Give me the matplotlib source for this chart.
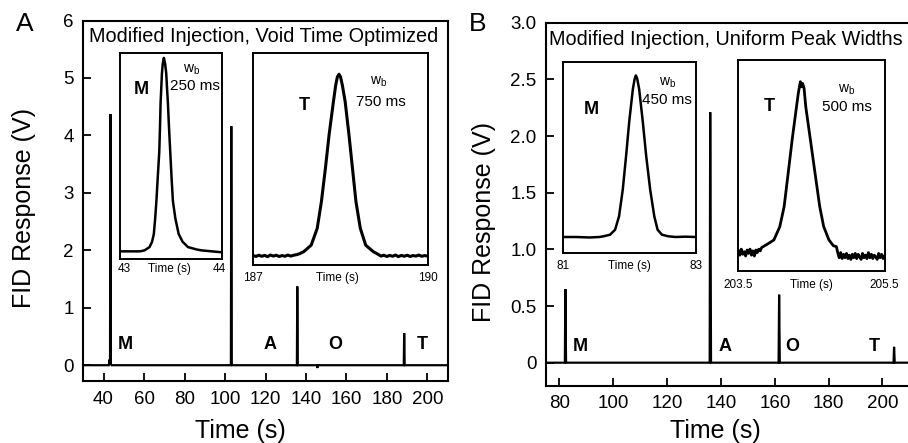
import matplotlib
matplotlib.use('Agg')
import matplotlib.pyplot as plt

plt.rcParams['font.family'] = ['Liberation Sans', 'DejaVu Sans']
plt.rcParams['mathtext.fontset'] = 'custom'
plt.rcParams['mathtext.rm'] = 'Liberation Sans'
plt.rcParams['mathtext.it'] = 'Liberation Sans:italic'

# ---------------- data ----------------
# Panel A main chromatogram (time s, FID V)
a_time = [30, 42.6, 43.0, 43.2, 43.4, 43.6, 44.0, 102.9, 103.1, 103.35, 103.6,
          135.5, 135.7, 135.95, 145.5, 145.6, 145.7, 188.3, 188.5, 188.75, 210]
a_resp = [0, 0, 0.10, 0.05, 4.37, 0.02, 0, 0, 4.16, 0.03, 0,
          0, 1.37, 0, 0, -0.05, 0, 0, 0.56, 0, 0]
a_labels = ['M', 'A', 'O', 'T']
a_label_x = [50.7, 122.0, 154.6, 197.3]
a_label_y = 0.36

# Panel B main chromatogram
b_time = [75, 82.0, 82.2, 82.45, 135.8, 136.0, 136.3, 161.4, 161.6, 161.85,
          204.1, 204.3, 204.55, 212]
b_resp = [0, 0, 0.65, 0, 0, 2.21, 0, 0, 0.60, 0, 0, 0.14, 0, 0]
b_labels = ['M', 'A', 'O', 'T']
b_label_x = [87.9, 141.6, 166.3, 197.0]
b_label_y = 0.14

# Inset A-M (normalised signal)
am_t = [43.00, 43.10, 43.20, 43.244, 43.293, 43.318, 43.335, 43.348, 43.36, 43.374,
        43.388, 43.395, 43.401, 43.408, 43.414, 43.422, 43.433, 43.445, 43.456,
        43.463, 43.472, 43.483, 43.495, 43.507, 43.521, 43.545, 43.577, 43.615,
        43.668, 43.75, 43.80, 43.90, 44.00]
am_v = [0.0, 0.0, 0.0, 0.005, 0.022, 0.05, 0.09, 0.17, 0.26, 0.39,
        0.515, 0.64, 0.77, 0.85, 0.92, 0.97, 1.0, 0.97, 0.92,
        0.85, 0.77, 0.64, 0.515, 0.39, 0.26, 0.17, 0.09, 0.05,
        0.022, 0.01, 0.005, 0.0, -0.005]

# Inset A-T
at_t = [187.00, 187.05, 187.10, 187.15, 187.20, 187.25, 187.30, 187.35, 187.40,
        187.45, 187.50, 187.55, 187.60, 187.65, 187.70, 187.75, 187.80, 187.87,
        188.00, 188.104, 188.176, 188.245, 188.308, 188.383, 188.422, 188.45,
        188.479, 188.505, 188.536, 188.584, 188.65, 188.71, 188.77, 188.845,
        188.938, 189.07, 189.15, 189.20, 189.25, 189.30, 189.35, 189.40, 189.45,
        189.50, 189.55, 189.60, 189.65, 189.70, 189.75, 189.80, 189.85, 189.90,
        189.95, 190.00]
at_v = [0.002, -0.004, 0.003, -0.003, 0.002, -0.005, 0.004, -0.002, 0.003,
        -0.004, 0.001, -0.003, 0.004, -0.002, 0.003, 0.006, 0.011, 0.022,
        0.058, 0.151, 0.298, 0.482, 0.666, 0.85, 0.94, 0.985,
        1.0, 0.985, 0.94, 0.85, 0.666, 0.482, 0.298, 0.151,
        0.058, 0.022, 0.008, -0.002, 0.003, -0.004, 0.002, -0.003, 0.004,
        -0.005, 0.002, -0.003, 0.003, -0.004, 0.001, -0.002, 0.004, -0.003,
        0.001, -0.002]

# Inset B-M
bm_t = [81.00, 81.20, 81.40, 81.55, 81.608, 81.71, 81.786, 81.846, 81.902, 81.952,
        81.998, 82.054, 82.08, 82.10, 82.12, 82.15, 82.206, 82.256, 82.316,
        82.378, 82.428, 82.494, 82.594, 82.70, 82.85, 83.00]
bm_v = [0.0, 0.0, -0.003, 0.0, 0.004, 0.014, 0.045, 0.128, 0.293, 0.50,
        0.707, 0.914, 0.975, 1.0, 0.98, 0.914, 0.707, 0.50, 0.293,
        0.128, 0.045, 0.014, 0.004, 0.0, 0.002, 0.0]

# Inset B-T (noisy)
bt_t = [203.50, 203.52, 203.54, 203.56, 203.58, 203.60, 203.62, 203.64, 203.66,
        203.68, 203.70, 203.72, 203.74, 203.76, 203.78, 203.80, 203.82, 203.841,
        203.90, 203.987, 204.068, 204.127, 204.182, 204.236, 204.296, 204.32,
        204.34, 204.35, 204.36, 204.38, 204.40, 204.423, 204.487, 204.55, 204.614,
        204.668, 204.74, 204.80, 204.842, 204.86, 204.88, 204.90, 204.92, 204.94,
        204.96, 204.98, 205.00, 205.02, 205.04, 205.06, 205.08, 205.10, 205.12,
        205.14, 205.16, 205.18, 205.20, 205.22, 205.24, 205.26, 205.28, 205.30,
        205.32, 205.34, 205.36, 205.38, 205.40, 205.42, 205.44, 205.46, 205.48,
        205.50]
bt_v = [0.01, -0.015, 0.02, -0.01, 0.005, -0.02, 0.015, -0.005, 0.02,
        -0.015, 0.01, -0.02, 0.015, 0.0, 0.02, 0.01, 0.03, 0.035,
        0.05, 0.074, 0.152, 0.269, 0.464, 0.658, 0.853, 0.93,
        0.98, 1.0, 0.97, 0.99, 0.96, 0.853, 0.658, 0.464, 0.269,
        0.152, 0.074, 0.04, 0.035, 0.0, -0.03, 0.0, -0.035, -0.01,
        -0.03, -0.005, -0.035, -0.015, -0.04, -0.01, -0.03, -0.005, -0.035,
        -0.01, -0.025, -0.04, -0.005, -0.03, -0.015, -0.035, 0.0, -0.03,
        -0.01, -0.035, -0.015, -0.025, -0.04, -0.005, -0.03, -0.01, -0.035,
        -0.02]

# ---------------- figure ----------------
W, H = 908, 443
fig = plt.figure(figsize=(W / 100, H / 100), dpi=100)


def box(l, t, r, b):
    return [l / W, 1 - b / H, (r - l) / W, (b - t) / H]


def px(x, y):
    return (x / W, 1 - y / H)


TICK_FS = 13.5
LABEL_FS = 18


def main_axes(rect, t, v, xlim, ylim, xticks, yticks, yticklabels, title,
              labels, lx, ly, xlabel_pos, ylabel_pos, right_spine=True):
    ax = fig.add_axes(rect)
    ax.plot(t, v, color='k', lw=1.6, solid_joinstyle='miter')
    ax.set_xlim(xlim)
    ax.set_ylim(ylim)
    ax.set_xticks(xticks)
    ax.set_yticks(yticks)
    ax.set_yticklabels(yticklabels)
    ax.tick_params(direction='in', length=6, width=1.3, labelsize=TICK_FS, pad=7)
    for s in ax.spines.values():
        s.set_linewidth(1.5)
    if not right_spine:
        ax.spines['right'].set_visible(False)
    ax.set_xlabel('Time (s)', fontsize=LABEL_FS)
    ax.set_ylabel('FID Response (V)', fontsize=LABEL_FS)
    ax.xaxis.set_label_coords(*xlabel_pos)
    ax.yaxis.set_label_coords(*ylabel_pos)
    ax.text(title[1], title[2], title[0], transform=ax.transAxes,
            ha='left', va='center', fontsize=14.3)
    for lab, x in zip(labels, lx):
        ax.text(x, ly, lab, ha='center', va='center', fontsize=13,
                fontweight='bold')
    return ax


axA = main_axes(box(83.3, 20.5, 447.7, 381.3), a_time, a_resp, (30, 210),
                (-0.28, 6), range(40, 201, 20), range(0, 7),
                [str(i) for i in range(7)],
                ('Modified Injection, Void Time Optimized', 0.0156, 0.957),
                a_labels, a_label_x, a_label_y, (0.431, -0.104), (-0.13, 0.48))

axB = main_axes(box(546, 22.7, 914.8, 385.7), b_time, b_resp, (75, 212),
                (-0.203, 3.0), range(80, 201, 20),
                [0, 0.5, 1.0, 1.5, 2.0, 2.5, 3.0],
                ['0', '0.5', '1.0', '1.5', '2.0', '2.5', '3.0'],
                ('Modified Injection, Uniform Peak Widths', 0.009, 0.954),
                b_labels, b_label_x, b_label_y, (0.46, -0.092), (-0.136, 0.452),
                right_spine=False)

fig.text(*px(25, 24), 'A', fontsize=19, ha='center', va='center')
fig.text(*px(478, 24), 'B', fontsize=19, ha='center', va='center')


def inset(rect, t, v, xlim, ylim, ticks, ticklabels, pad, peak_lab, lab_xy,
          wb_xy, ms_xy, ms_text, lw=1.8):
    ax = fig.add_axes(rect)
    ax.plot(t, v, color='k', lw=lw)
    ax.set_xlim(xlim)
    ax.set_ylim(ylim)
    ax.set_yticks([])
    ax.set_xticks(ticks)
    ax.set_xticklabels(ticklabels, fontsize=8.5)
    ax.tick_params(axis='x', length=0, pad=pad)
    for s in ax.spines.values():
        s.set_linewidth(1.4)
    fig.text(*px(*lab_xy), peak_lab, fontsize=13, fontweight='bold',
             ha='center', va='center')
    fig.text(*px(*wb_xy), r'w$_\mathrm{b}$', fontsize=10, ha='center',
             va='center')
    fig.text(*px(*ms_xy), ms_text, fontsize=11, ha='center', va='center')
    return ax


inset(box(119.5, 53, 222, 258.5), am_t, am_v, (43, 44), (-0.037, 1.0255),
      [43.05, 43.49, 43.97], ['43', 'Time (s)', '44'], 3.5, 'M',
      (141.7, 89), (192, 70), (194.7, 86.5), '250 ms')
inset(box(253, 53, 427.5, 265), at_t, at_v, (187, 190), (-0.051, 1.117),
      [187, 188.46, 190], ['187', 'Time (s)', '190'], 5, 'T',
      (304, 105.5), (378.7, 82), (380.5, 102.5), '750 ms', lw=2.2)
inset(box(563, 62, 695.5, 253), bm_t, bm_v, (81, 83), (-0.099, 1.083),
      [81, 82.0, 83], ['81', 'Time (s)', '83'], 5, 'M',
      (591.7, 109.2), (668, 83), (667, 100), '450 ms')
inset(box(738.3, 60, 884.5, 270.7), bt_t, bt_v, (203.5, 205.5), (-0.106, 1.127),
      [203.5, 204.5, 205.5], ['203.5', 'Time (s)', '205.5'], 6, 'T',
      (769, 106.7), (846.7, 90), (847, 107), '500 ms', lw=2.0)

fig.savefig('out.png', dpi=100)
